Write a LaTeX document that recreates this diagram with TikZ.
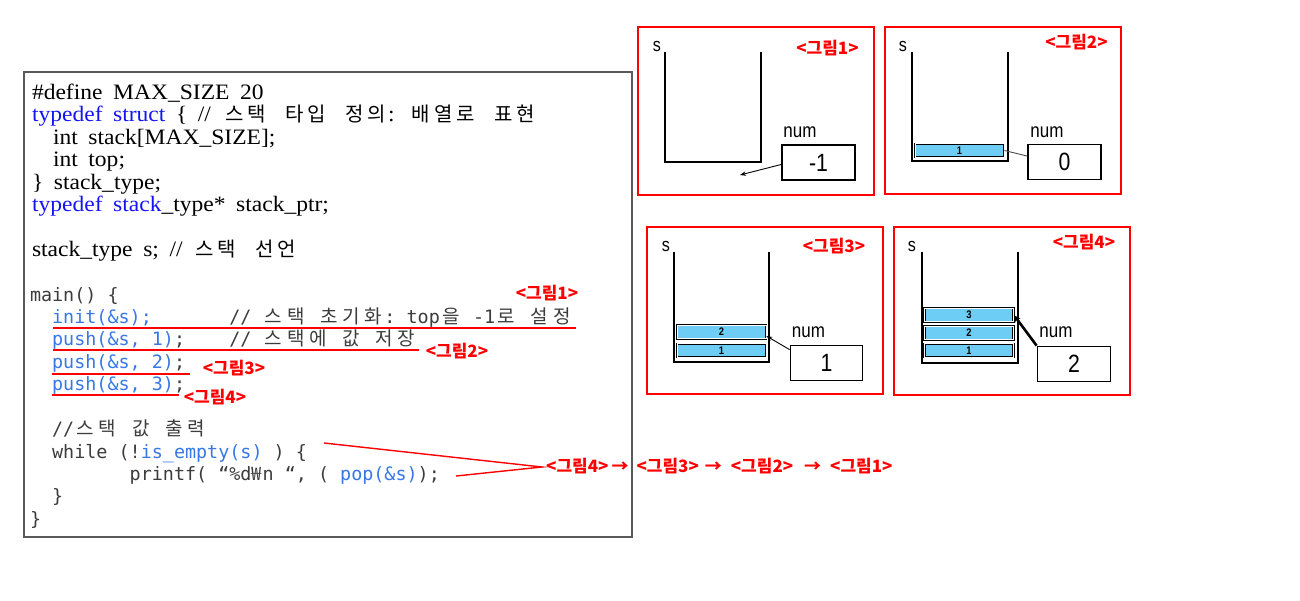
\documentclass[tikz,border=0pt]{standalone}
\usepackage{fontspec}
\usetikzlibrary{arrows.meta}
\newfontfamily\krf{Noto Sans CJK KR}
\newfontfamily\monof{DejaVu Sans Mono}
\newfontfamily\serf[FakeStretch=1.07,WordSpace=1.8]{Liberation Serif}
\newfontfamily\nsans[FakeStretch=0.85]{Liberation Sans}
\definecolor{kred}{RGB}{255,0,0}
\definecolor{codeblue}{RGB}{20,20,245}
\definecolor{lblue}{RGB}{55,120,230}
\definecolor{codegray}{RGB}{60,60,60}
\definecolor{elemblue}{RGB}{110,205,245}
\definecolor{boxgray}{RGB}{90,90,90}
\newlength\hgw
\newlength\cw
\setlength\cw{11.078pt}
\def\hgloop#1{\ifx\relax#1\else\makebox[\hgw][c]{#1}\expandafter\hgloop\fi}
\newcommand\hg[1]{{\setlength\hgw{22.156pt}\fontsize{19}{22}\selectfont\krf\hgloop#1\relax}}
\newcommand\tk[1]{{\setlength\hgw{22.5pt}\fontsize{20}{22}\selectfont\krf\hgloop#1\relax}}
\newcommand\ks{\hspace{15pt}}
\newcommand\cel[1]{\hspace{#1\cw}}
\newcommand\wonsign{\makebox[\cw][c]{\krf ₩}}
\tikzset{
  codeline/.style={anchor=base west, inner sep=0pt, outer sep=0pt},
  topcode/.style={codeline, font=\fontsize{22}{24}\selectfont\serf, text=black},
  lowcode/.style={codeline, font=\fontsize{18.4}{22}\selectfont\monof, text=codegray},
  redlbl/.style={inner sep=0pt, text=kred, font=\fontsize{17}{20}\selectfont\krf\bfseries},
  redln/.style={draw=kred, line width=1.4pt},
  panel/.style={draw=kred, line width=2pt},
  stackwall/.style={draw=black, line width=2pt},
  numbox/.style={draw=black, line width=1.8pt, inner sep=0pt, fill=white,
    font=\fontsize{25}{28}\selectfont\nsans},
  numlbl/.style={inner sep=0pt, font=\fontsize{20}{22}\selectfont\nsans},
  slbl/.style={inner sep=0pt, font=\fontsize{19}{22}\selectfont\nsans},
  elem/.style={draw=black, line width=0.7pt, double=white, double distance=0.8pt,
    fill=elemblue, inner sep=0pt, minimum width=89pt, minimum height=13.6pt,
    font=\fontsize{11}{12}\selectfont\nsans\bfseries},
  ptr/.style={draw=black, line width=0.9pt, -{Stealth[length=6pt,width=4.5pt]}},
  ptrthick/.style={draw=black, line width=2.6pt, -{Stealth[length=7pt,width=6pt]}},
  ptrline/.style={draw=black!70, line width=0.9pt}
}
\begin{document}
\begin{tikzpicture}[x=1pt,y=-1pt]
\useasboundingbox (0,0) rectangle (1300,600);
\fill[white] (0,0) rectangle (1300,600);

% ---------- code box ----------
\draw[draw=boxgray, line width=1.6pt] (24,72) rectangle (632,537);

\node[topcode] (t1) at (32,99) {\#define MAX\_SIZE 20};
\node[topcode] (t2) at (32,121.5) {{\color{codeblue}typedef struct} \{ //\hspace{12pt}\tk{스택}\ks\tk{타입}\ks\tk{정의}:\ks\tk{배열로}\ks\tk{표현}};
\node[topcode] (t3) at (53,144) {int stack[MAX\_SIZE];};
\node[topcode] (t4) at (53,166.5) {int top;};
\node[topcode] (t5) at (32,189) {\} stack\_type;};
\node[topcode] (t6) at (32,211.5) {{\color{codeblue}typedef stack}\_type* stack\_ptr;};
\node[topcode] (t8) at (32,256.5) {stack\_type s; // \tk{스택}\ks\tk{선언}};

\node[lowcode] (c0) at (30,301) {main() \{};
\node[lowcode] (c1) at (52.16,323) {{\color{lblue}init(\&s);}\cel{7}//\cel{1}\hg{스택}\cel{1}\hg{초기화}:\cel{1}top\hg{을}\cel{1}-1\hg{로}\cel{1}\hg{설정}};
\node[lowcode] (c2) at (52.16,345.5) {{\color{lblue}push(\&s, 1)};\cel{4}//\cel{1}\hg{스택에}\cel{1}\hg{값}\cel{1}\hg{저장}};
\node[lowcode] (c3) at (52.16,368) {{\color{lblue}push(\&s, 2)};};
\node[lowcode] (c4) at (52.16,390) {{\color{lblue}push(\&s, 3)};};
\node[lowcode] (c5) at (52.16,435) {//\hg{스택}\cel{1}\hg{값}\cel{1}\hg{출력}};
\node[lowcode] (c6) at (52.16,458) {while (!{\color{lblue}is\_empty(s)} ) \{};
\node[lowcode] (c7) at (129.7,480) {printf( “\%d\wonsign n “, ( {\color{lblue}pop(\&s)});};
\node[lowcode] (c8) at (52.16,502) {\}};
\node[lowcode] (c9) at (30,525) {\}};

% red underlines
\draw[redln] (53,328) -- (576,328);
\draw[redln] (53,350) -- (419,350);
\draw[redln] (52,374) -- (190,374);
\draw[redln] (52,395) -- (179,395);

\node[redlbl] (g1) at (547,293) {<그림1>};
\node[redlbl] (g2) at (457,351) {<그림2>};
\node[redlbl] (g3) at (234,368) {<그림3>};
\node[redlbl] (g4) at (215,397) {<그림4>};

% pop order
\coordinate (w1) at (324,443);
\coordinate (w2) at (456,476);
\node[redlbl, anchor=west] (seq) at (546,466) {<그림4>\hspace{3pt}→\hspace{8pt}<그림3>\hspace{6pt}→\hspace{9pt}<그림2>\hspace{11pt}→\hspace{9pt}<그림1>};
\coordinate (vtip) at (542,467);
\draw[redln] (w1) -- (vtip) -- (w2);

% ---------- panel 1 ----------
\draw[panel] (638,27) rectangle (874,195);
\node[slbl] (s1) at (657,46) {s};
\node[redlbl] (pl1) at (827.5,48) {<그림1>};
\draw[stackwall] (665,52) -- (665,162) -- (761,162) -- (761,52);
\node[numlbl] (nl1) at (800,132) {num};
\node[numbox, minimum width=73pt, minimum height=35pt] (n1) at (818.5,162.5) {-1};
\coordinate (a1) at (740,175);
\draw[ptr] ([yshift=-2pt]n1.west) -- (a1);

% ---------- panel 2 ----------
\draw[panel] (885,27) rectangle (1121,194);
\node[slbl] (s2) at (903,46) {s};
\node[redlbl] (pl2) at (1076.5,42) {<그림2>};
\draw[stackwall] (912,52) -- (912,161) -- (1008,161) -- (1008,52);
\node[elem] (e21) at (959.5,150.5) {1};
\node[numlbl] (nl2) at (1047,132) {num};
\node[numbox, minimum width=73pt, minimum height=35pt] (n2) at (1064.5,162) {0};
\draw[ptrline] ([yshift=6pt]n2.west) -- (e21.east);

% ---------- panel 3 ----------
\draw[panel] (647,227) rectangle (883,394);
\node[slbl] (s3) at (666,246) {s};
\node[redlbl] (pl3) at (834,246) {<그림3>};
\draw[stackwall] (674,252) -- (674,362) -- (769,362) -- (769,252);
\node[elem] (e31) at (721.5,350.5) {1};
\node[elem] (e32) at (721.5,332) {2};
\node[numlbl] (nl3) at (808.5,332) {num};
\node[numbox, minimum width=72pt, minimum height=35pt] (n3) at (826.5,363) {1};
\draw[ptr] ([yshift=-5pt]n3.north west) -- ([yshift=-4pt]e32.east);

% ---------- panel 4 ----------
\draw[panel] (894,227) rectangle (1130,395);
\node[slbl] (s4) at (912,246) {s};
\node[redlbl] (pl4) at (1084,242) {<그림4>};
\draw[stackwall] (922,252) -- (922,363) -- (1018,363) -- (1018,252);
\node[elem] (e41) at (969,350.5) {1};
\node[elem] (e42) at (969,333) {2};
\node[elem] (e43) at (969,315) {3};
\node[numlbl] (nl4) at (1056,332) {num};
\node[numbox, minimum width=73pt, minimum height=35pt] (n4) at (1074,364) {2};
\draw[ptrthick] (n4.north west) -- (e43.east);
\end{tikzpicture}
\end{document}
